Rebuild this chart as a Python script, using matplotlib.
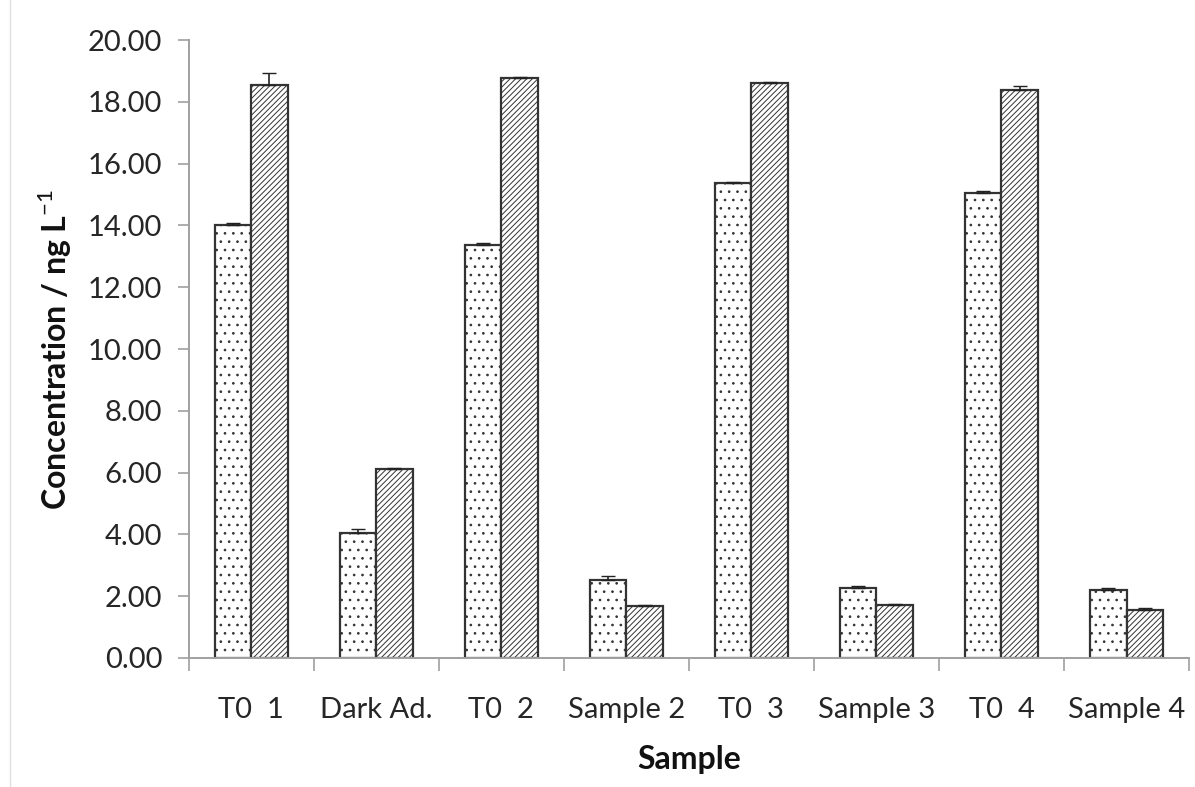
import matplotlib
matplotlib.use("Agg")
import matplotlib.pyplot as plt
from matplotlib.lines import Line2D
import numpy as np

# Datos
samples = ["T0  1", "Dark Ad.", "T0  2", "Sample 2", "T0  3", "Sample 3", "T0  4", "Sample 4"]
dotted_vals = [14.02, 4.05, 13.38, 2.52, 15.38, 2.25, 15.05, 2.20]
dotted_err = [0.05, 0.12, 0.05, 0.12, 0.03, 0.07, 0.05, 0.05]
hatched_vals = [18.55, 6.12, 18.78, 1.68, 18.62, 1.72, 18.38, 1.55]
hatched_err = [0.40, 0.02, 0.03, 0.03, 0.03, 0.03, 0.12, 0.07]

plt.rcParams["font.family"] = ["Lato", "DejaVu Sans"]
plt.rcParams["mathtext.fontset"] = "custom"
plt.rcParams["mathtext.rm"] = "Lato"
plt.rcParams["mathtext.bf"] = "Lato:bold"
plt.rcParams["hatch.linewidth"] = 0.7

fig = plt.figure(figsize=(11.95, 7.87), dpi=100)
ax = fig.add_axes([0.158, 0.164, 0.837, 0.785])

x = np.arange(len(samples))
w = 0.29
ax.bar(x - w / 2, dotted_vals, w, color="white", edgecolor="#333333",
       linewidth=1.6, hatch="..", zorder=2)
ax.bar(x + w / 2, hatched_vals, w, color="white", edgecolor="#333333",
       linewidth=1.6, hatch="//////", zorder=2)
ax.errorbar(x - w / 2, dotted_vals, yerr=[np.zeros(len(x)), dotted_err],
            fmt="none", ecolor="#222222", elinewidth=1.2, capsize=5, zorder=3)
ax.errorbar(x + w / 2, hatched_vals, yerr=[np.zeros(len(x)), hatched_err],
            fmt="none", ecolor="#222222", elinewidth=1.2, capsize=5, zorder=3)

ax.set_xlim(-0.5, len(samples) - 0.5)
ax.set_ylim(0, 20)
ax.set_yticks(np.arange(0, 20.01, 2))
ax.set_yticklabels([f"{v:.2f}" for v in np.arange(0, 20.01, 2)])
ax.set_xticks(x)
ax.set_xticklabels(samples)
ax.set_xticks(np.arange(-0.5, len(samples)), minor=True)
ax.tick_params(axis="x", which="major", length=0, pad=28)
ax.tick_params(axis="x", which="minor", length=9, color="#a0a0a0", width=1.2)
ax.tick_params(axis="y", length=8, color="#a0a0a0", width=1.2, pad=11)
ax.tick_params(labelsize=21, labelcolor="#262626")

for s in ["top", "right"]:
    ax.spines[s].set_visible(False)
for s in ["left", "bottom"]:
    ax.spines[s].set_color("#a0a0a0")
    ax.spines[s].set_linewidth(1.4)

ax.set_ylabel("Concentration / ng L$^{\\mathrm{-1}}$", fontsize=23, fontweight="bold",
              color="#111111", labelpad=10)
ax.set_xlabel("Sample", fontsize=23, fontweight="bold", color="#111111", labelpad=16)

fig.add_artist(Line2D([10 / 1195, 10 / 1195], [0.0, 1.0], color="#e0e0e0", linewidth=1))

plt.savefig("out.png", dpi=100)
plt.close()
